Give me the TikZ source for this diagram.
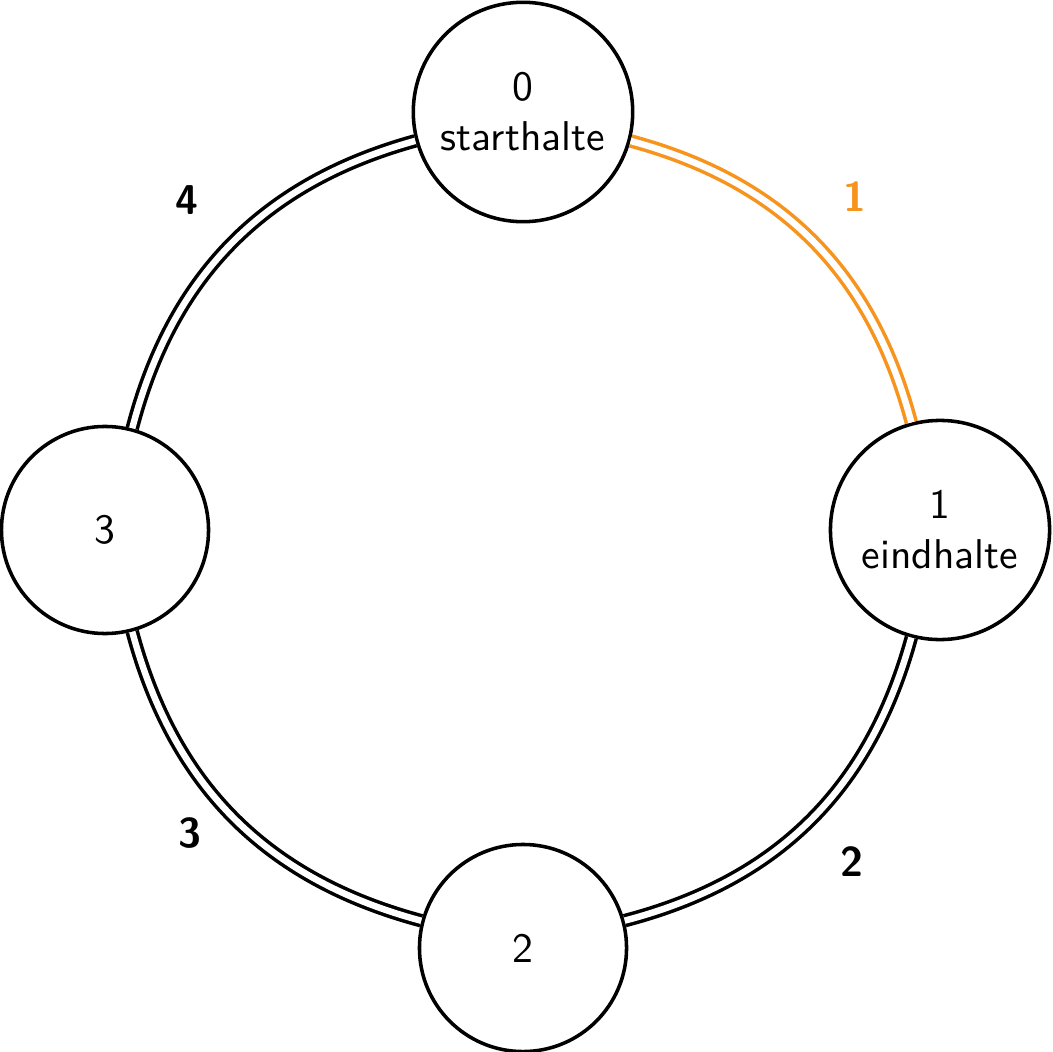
\documentclass[tikz,border=0pt]{standalone}
\definecolor{edgeorange}{RGB}{247,148,30}
\begin{document}
\begin{tikzpicture}[x=0.24pt,y=-0.24pt,
  font=\sffamily,
  state/.style={circle,draw=black,line width=0.85pt,minimum size=49.7pt,align=center,inner sep=3.33pt},
  conn/.style={double distance=1.55pt,line width=0.85pt,draw=black,bend left=30},
  hot/.style={draw=edgeorange},
  wlabel/.style={font=\sffamily\bfseries},
  hotlabel/.style={text=edgeorange}]
\useasboundingbox (0,0) rectangle (1052,1052);
\node[state] (n0) at (523,112) {0\\starthalte};
\node[state,minimum size=52.6pt] (n1) at (940,530) {1\\eindhalte};
\node[state] (n2) at (523,948) {2};
\node[state] (n3) at (105,530) {3};
\draw[conn,hot] (n0) to (n1);
\draw[conn] (n1) to (n2);
\draw[conn] (n2) to (n3);
\draw[conn] (n3) to (n0);
\node[wlabel,hotlabel] (l1) at (855,197) {1};
\node[wlabel] (l2) at (852,862) {2};
\node[wlabel] (l3) at (190,833) {3};
\node[wlabel] (l4) at (187,200) {4};
\end{tikzpicture}
\end{document}
